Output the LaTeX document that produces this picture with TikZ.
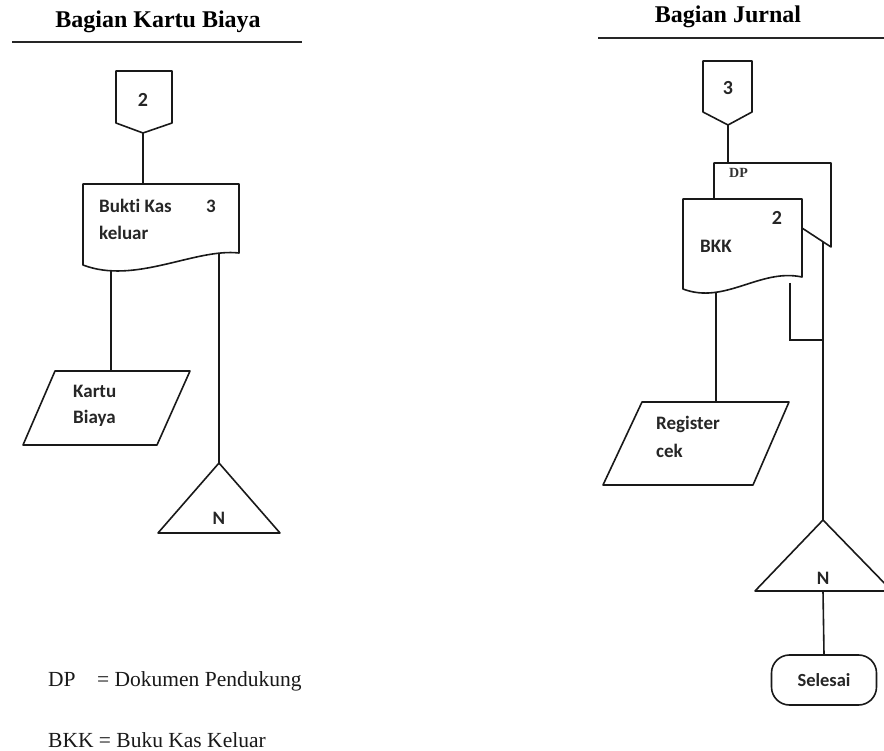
\documentclass[tikz,border=0pt]{standalone}
\usepackage{fontspec}
\setmainfont{Liberation Serif}
\newfontfamily\calib[Ligatures=NoCommon]{Carlito}
\begin{document}
\begin{tikzpicture}[x=1pt,y=-1pt]
\tikzset{
  shp/.style={draw=black!90, line width=1.6pt, line join=round},
  conn/.style={draw=black!90, line width=1.6pt},
  rule/.style={draw=black!85, line width=1.7pt},
  hdr/.style={font=\bfseries\fontsize{24}{26}\selectfont, inner sep=0pt, anchor=base, text=black},
  lbl/.style={font=\calib\bfseries\fontsize{19}{21}\selectfont, inner sep=0pt, anchor=base west, text=black!85},
  num/.style={font=\calib\bfseries\fontsize{20}{22}\selectfont, inner sep=0pt, anchor=base, text=black!85},
  nlbl/.style={font=\calib\bfseries\fontsize{19}{21}\selectfont, inner sep=0pt, anchor=base, text=black!85},
  dplbl/.style={font=\bfseries\fontsize{14}{16}\selectfont, inner sep=0pt, anchor=base west, text=black!80},
  leg/.style={font=\fontsize{21.5}{24}\selectfont, inner sep=0pt, anchor=base west, text=black!90},
  term/.style={draw=black!90, line width=1.6pt, rounded corners=18pt, minimum width=105pt, minimum height=50pt, inner sep=0pt, font=\calib\bfseries\fontsize{18.5}{21}\selectfont, text=black!85}
}
\useasboundingbox (0,0) rectangle (884,751);
\fill[white] (0,0) rectangle (884,751);

% ---------------- Left: Bagian Kartu Biaya ----------------
\node[hdr] (hdrL) at (158,28) {Bagian Kartu Biaya};
\coordinate (rL1) at (12,42); \coordinate (rL2) at (302,42);
\draw[rule] (rL1) -- (rL2);

% off-page connector 2
\draw[shp] (116,71) -- (172,71) -- (172,123) -- (143,133) -- (116,123) -- cycle;
\coordinate (opL) at (143,133);
\node[num] (opLt) at (143,107) {2};

% document Bukti Kas keluar
\draw[shp] (83,184) -- (239,184) -- (239,253) .. controls (195,248) and (135,285) .. (83,265) -- cycle;
\coordinate (docLtop) at (143,184);
\coordinate (docLb1) at (111,271);
\coordinate (docLb2) at (219,253);
\node[lbl] (bk1) at (99,213) {Bukti Kas};
\node[lbl] (bk3) at (206,213) {3};
\node[lbl] (bk2) at (99,240) {keluar};

\draw[conn] (opL) -- (docLtop);

% parallelogram Kartu Biaya
\draw[shp] (55,371) -- (190,371) -- (157,445) -- (23,445) -- cycle;
\coordinate (kbTop) at (111,371);
\node[lbl] (kb1) at (73,398) {Kartu};
\node[lbl] (kb2) at (73,424) {Biaya};
\draw[conn] (docLb1) -- (kbTop);

% triangle N (file)
\draw[shp] (219,463) -- (280,533) -- (158,533) -- cycle;
\coordinate (triLapex) at (219,463);
\node[nlbl] (nL) at (219,524) {N};
\draw[conn] (docLb2) -- (triLapex);

% legend
\node[leg] (leg1) at (48,686) {\makebox[49pt][l]{DP}= Dokumen Pendukung};
\node[leg] (leg2) at (48,747) {BKK = Buku Kas Keluar};

% ---------------- Right: Bagian Jurnal ----------------
\node[hdr] (hdrR) at (728,23) {Bagian Jurnal};
\coordinate (rR1) at (598,38); \coordinate (rR2) at (884,38);
\draw[rule] (rR1) -- (rR2);

% off-page connector 3
\draw[shp] (703,61) -- (752,61) -- (752,112) -- (728,125) -- (703,112) -- cycle;
\coordinate (opR) at (728,125);
\node[num] (opRt) at (728,95) {3};

% DP document (behind)
\draw[shp] (714,199) -- (714,163) -- (831,163) -- (831,247) -- (802,228);
\coordinate (dpTop) at (728,163);
\node[dplbl] (dpt) at (729,178) {DP};
\draw[conn] (opR) -- (dpTop);

% BKK document (front)
\draw[shp, fill=white] (683,199) -- (802,199) -- (802,277) .. controls (760,268) and (725,305) .. (683,289) -- cycle;
\node[num] (bkk2) at (777,225) {2};
\node[lbl] (bkkt) at (700,253) {BKK};
\coordinate (bkkB) at (716,292);

% parallelogram Register cek
\draw[shp] (642,402) -- (789,402) -- (753,485) -- (603,485) -- cycle;
\coordinate (rcTop) at (716,402);
\node[lbl] (rc1) at (656,429) {Register};
\node[lbl] (rc2) at (656,457) {cek};
\draw[conn] (bkkB) -- (rcTop);

% side lines
\coordinate (s1a) at (790,283);
\coordinate (s1b) at (790,340);
\coordinate (s1c) at (823,340);
\coordinate (dpB) at (823,242);
\draw[conn, line join=miter] (s1a) -- (s1b) -- (s1c);

% triangle N
\draw[shp] (823,520) -- (892,591) -- (755,591) -- cycle;
\coordinate (triRapex) at (823,520);
\coordinate (triRbase) at (823,591);
\node[nlbl] (nR) at (823,584) {N};
\draw[conn] (dpB) -- (triRapex);

% terminal Selesai
\node[term] (sel) at (824,680) {Selesai};
\draw[conn] (triRbase) -- (sel.north);
\end{tikzpicture}
\end{document}
